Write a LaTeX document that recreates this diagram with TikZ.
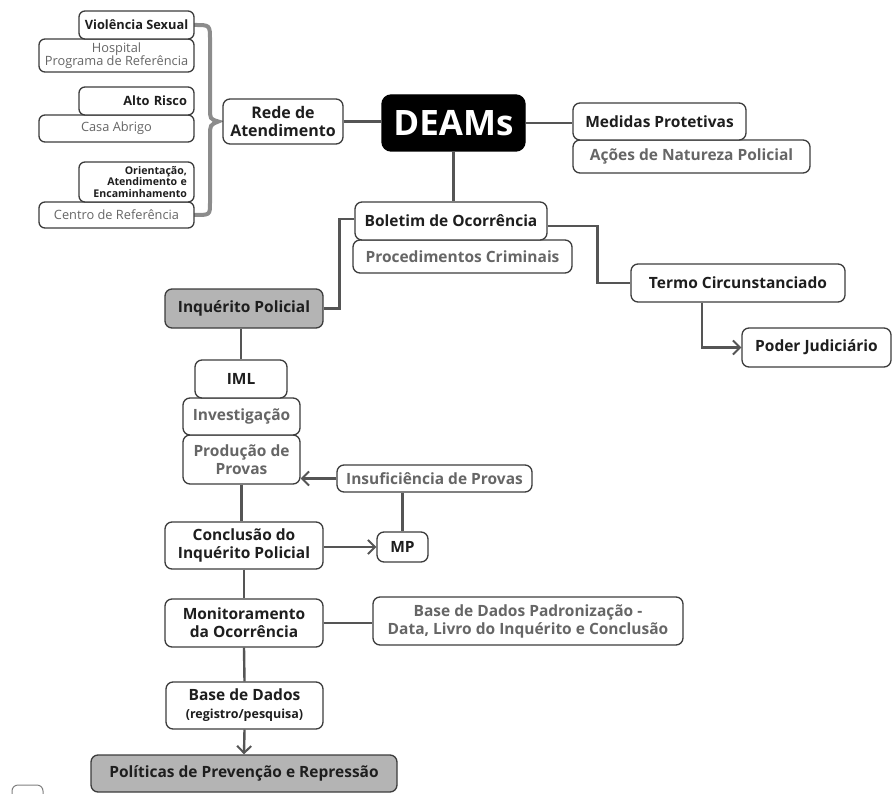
\documentclass[tikz,border=0pt]{standalone}
\usepackage{fontspec}
\setmainfont{Open Sans}
\usetikzlibrary{arrows.meta,calc}
\pgfdeclarelayer{bg}
\pgfsetlayers{bg,main}
\definecolor{txt}{HTML}{1E1E1E}
\definecolor{gtxt}{HTML}{666666}
\definecolor{bord}{HTML}{3C3C3C}
\definecolor{conn}{HTML}{555555}
\definecolor{brace}{HTML}{8C8C8C}
\definecolor{gfill}{HTML}{B4B4B4}
\tikzset{
  box/.style={draw=bord, line width=1.3pt, rounded corners=7pt, fill=white,
    inner sep=0pt, align=center, text=txt, font=\bfseries\fontsize{15.5}{18}\selectfont},
  gbox/.style={box, text=gtxt},
  sbox/.style={box, rounded corners=6pt, font=\bfseries\fontsize{12.8}{13.5}\selectfont},
  sgbox/.style={box, rounded corners=6pt, text=gtxt, font=\fontsize{12.8}{13}\selectfont},
  shade/.style={box, fill=gfill},
  conn/.style={draw=conn, line width=2.4pt},
  arr/.style={conn, -{Straight Barb[length=7pt,width=14pt,line width=2pt]}},
}
\begin{document}
\begin{tikzpicture}[x=1pt,y=-1pt]
\useasboundingbox (0,0) rectangle (893,794);
% left column
\node[sgbox, minimum width=155pt, minimum height=33pt] (hosp) at (116.5,55.5) {Hospital\\Programa de Referência};
\node[sbox, minimum width=115pt, minimum height=28pt] (vs) at (136.5,25) {Violência Sexual};
\node[sgbox, minimum width=155pt, minimum height=27pt] (casa) at (116.5,128.5) {Casa Abrigo};
\node[sbox, minimum width=115pt, minimum height=28pt, text width=101pt, align=right] (ar) at (136.5,101) {Alto Risco};
\node[sgbox, minimum width=155pt, minimum height=26pt] (cref) at (116.5,215) {Centro de Referência};
\node[sbox, minimum width=115pt, minimum height=40pt, text width=101pt, align=right, font=\bfseries\fontsize{10.6}{11.2}\selectfont] (ori) at (136.5,182) {Orientação,\\Atendimento e\\Encaminhamento};
\node[box, minimum width=120pt, minimum height=45pt, font=\bfseries\fontsize{16}{17.5}\selectfont] (rede) at (283,121.5) {Rede de\\Atendimento};
% centre
\node[box, fill=black, draw=black, rounded corners=9pt, text=white, minimum width=143pt, minimum height=56pt, font=\bfseries\fontsize{35}{36}\selectfont] (deams) at (453.5,123) {DEAMs};
\node[gbox, minimum width=237pt, minimum height=33pt] (acoes) at (691.5,156.5) {Ações de Natureza Policial};
\node[box, minimum width=173pt, minimum height=37pt] (med) at (659.5,121.5) {Medidas Protetivas};
\node[gbox, minimum width=219pt, minimum height=33pt] (proc) at (462.5,256.5) {Procedimentos Criminais};
\node[box, minimum width=192pt, minimum height=38pt] (bol) at (451,221) {Boletim de Ocorrência};
\node[box, minimum width=214pt, minimum height=38pt] (termo) at (738,283) {Termo Circunstanciado};
\node[box, minimum width=149pt, minimum height=39pt] (poder) at (816.5,347.5) {Poder Judiciário};
% lower column
\node[shade, minimum width=158pt, minimum height=39pt] (inq) at (244,308.5) {Inquérito Policial};
\node[gbox, minimum width=117pt, minimum height=49pt] (prod) at (241.5,459.5) {Produção de\\Provas};
\node[gbox, minimum width=117pt, minimum height=37pt] (inv) at (241.5,416.5) {Investigação};
\node[box, minimum width=92pt, minimum height=38pt] (iml) at (241,379) {IML};
\node[gbox, minimum width=195pt, minimum height=27pt] (insuf) at (434.5,478.5) {Insuficiência de Provas};
\node[box, minimum width=158pt, minimum height=47pt] (concl) at (244,545.5) {Conclusão do\\Inquérito Policial};
\node[box, minimum width=51pt, minimum height=30pt] (mp) at (402.5,547) {MP};
\node[box, minimum width=158pt, minimum height=48pt] (mon) at (244,623) {Monitoramento\\da Ocorrência};
\node[gbox, minimum width=310pt, minimum height=48pt] (bdp) at (528,621) {Base de Dados Padronização -\\Data, Livro do Inquérito e Conclusão};
\node[box, minimum width=157pt, minimum height=47pt] (bd) at (244.5,705.5) {Base de Dados\\{\fontsize{12.5}{14}\selectfont (registro/pesquisa)}};
\node[shade, minimum width=306pt, minimum height=37pt] (pol) at (244,773.5) {Políticas de Prevenção e Repressão};
% fragment at bottom left
\draw[draw=gray, line width=1pt, rounded corners=6pt] (12,810) -- (12,785) -- (43,785) -- (43,810);
\begin{pgfonlayer}{bg}
% brace
\coordinate (tip) at ($(rede.west)+(-4,0)$);
\draw[draw=brace, line width=4pt, line cap=round]
  (vs.east) .. controls (210,25) .. (210,40) -- (210,108)
  .. controls (210,119) .. (tip)
  .. controls (210,125) .. (210,136) -- (210,203)
  .. controls (210,215) .. (cref.east);
\draw[conn] (rede.east) -- (rede.east -| deams.west);
\draw[conn] (deams.east) -- (deams.east -| med.west);
\draw[conn] (deams.south) -- (deams.south |- bol.north);
\draw[conn] ([yshift=2pt]bol.west) -- ++(-15,0) |- (inq.east);
\draw[conn] ([yshift=-5pt]bol.east) -- ++(50,0) |- (termo.west);
\draw[arr] ([xshift=-36pt]termo.south) |- (poder.west);
\draw[conn] (iml.north |- inq.south) -- (iml.north);
\draw[conn] (prod.south) -- (prod.south |- concl.north);
\draw[arr] (insuf.west) -- (insuf.west -| prod.east);
\draw[conn] (mp.north |- insuf.south) -- (mp.north);
\draw[arr] (concl.east |- mp.west) -- (mp.west);
\draw[conn] (concl.south) -- (mon.north);
\draw[conn] (mon.east) -- (mon.east -| bdp.west);
\draw[conn] (mon.south) -- (bd.north);
\draw[arr] (bd.south) -- (pol.north);
\end{pgfonlayer}
\end{tikzpicture}
\end{document}
